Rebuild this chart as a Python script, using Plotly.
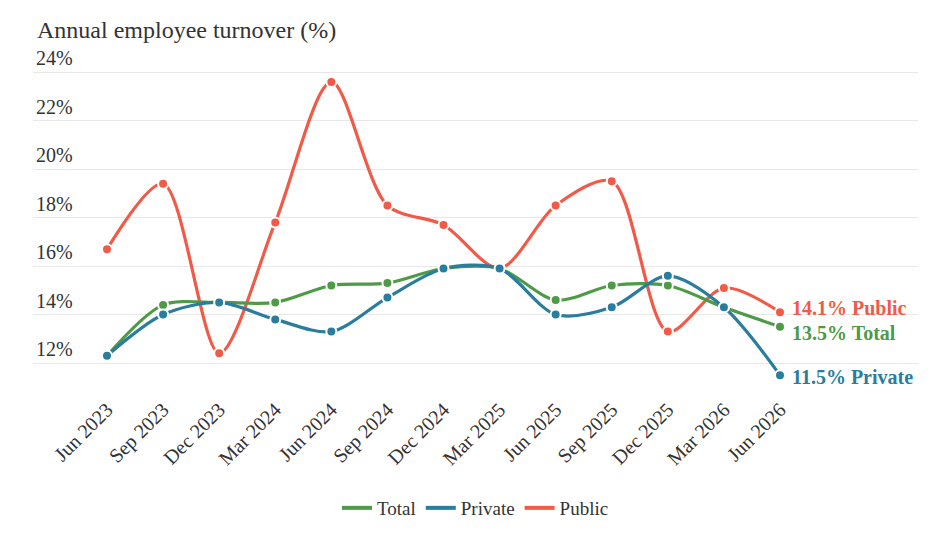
import plotly.graph_objects as go

periods = ["Jun 2023", "Sep 2023", "Dec 2023", "Mar 2024", "Jun 2024", "Sep 2024", "Dec 2024",
           "Mar 2025", "Jun 2025", "Sep 2025", "Dec 2025", "Mar 2026", "Jun 2026"]
total = [12.3, 14.4, 14.5, 14.5, 15.2, 15.3, 15.9, 15.9, 14.6, 15.2, 15.2, 14.3, 13.5]
private = [12.3, 14.0, 14.5, 13.8, 13.3, 14.7, 15.9, 15.9, 14.0, 14.3, 15.6, 14.3, 11.5]
public = [16.7, 19.4, 12.4, 17.8, 23.6, 18.5, 17.7, 15.9, 18.5, 19.5, 13.3, 15.1, 14.1]
y_ticks = [12, 14, 16, 18, 20, 22, 24]
y_tick_text = ["12%", "14%", "16%", "18%", "20%", "22%", "24%"]

GREEN = "#4E9A47"
BLUE = "#2A7D9C"
RED = "#F15A47"
FONT = "Liberation Serif"

series = [("Total", total, GREEN, -6), ("Private", private, BLUE, -1.5), ("Public", public, RED, 4)]
fig = go.Figure()
xi = list(range(len(periods)))
for name, vals, col, _ in [series[2], series[0], series[1]]:
    fig.add_trace(go.Scatter(
        x=xi, y=vals, mode="lines+markers", name=name, showlegend=False,
        line=dict(color=col, width=3.2, shape="spline", smoothing=0.85),
        marker=dict(size=10, color=col, line=dict(color="white", width=2)),
        hoverinfo="skip"))
for name, vals, col, _ in series:
    fig.add_trace(go.Scatter(x=[None], y=[None], mode="lines", name=name,
                             line=dict(color=col, width=4)))

for name, vals, col, ysh in series:
    fig.add_annotation(x=xi[-1], y=vals[-1], xref="x", yref="y",
                       text=f"<b>{vals[-1]:.1f}% {name}</b>", showarrow=False,
                       xanchor="left", yanchor="middle", xshift=10, yshift=ysh,
                       font=dict(family=FONT, size=20, color=col))

ppu = 24.25  # px per unit, for margin computation only
y_top = 25.0
y_bot = 11.3
top_m = 72 - (y_top - 24) * ppu
fig.update_layout(
    width=935, height=536,
    margin=dict(l=33, r=17, t=top_m, b=536 - (363 + (12 - y_bot) * ppu)),
    paper_bgcolor="white", plot_bgcolor="white",
    font=dict(family=FONT, size=19, color="#333333"),
    title=dict(text="Annual employee turnover (%)", x=37/935, xanchor="left",
               y=1 - 30/536, yanchor="middle", font=dict(family=FONT, size=24, color="#333333")),
    showlegend=True,
    legend=dict(orientation="h", x=0.5, xanchor="center", y=1 - 508/536, yref="container",
                yanchor="middle", font=dict(family=FONT, size=19, color="#333333"),
                itemwidth=30),
    xaxis=dict(range=[-(107 - 33) / 56.08, 12 + (918 - 780) / 56.08],
               tickmode="array", tickvals=xi, ticktext=periods, tickangle=-45,
               showgrid=False, zeroline=False, showline=False, ticks="",
               ticklabelstandoff=13,
               tickfont=dict(family=FONT, size=20, color="#333333")),
    yaxis=dict(range=[y_bot, y_top], tickmode="array", tickvals=y_ticks, ticktext=y_tick_text,
               ticklabelposition="inside top", ticklabeloverflow="allow",
               showgrid=True, gridcolor="#e8e8e8", gridwidth=1,
               zeroline=False, showline=False, ticks="",
               tickfont=dict(family=FONT, size=20, color="#333333")),
)
fig.write_html("out.html")
